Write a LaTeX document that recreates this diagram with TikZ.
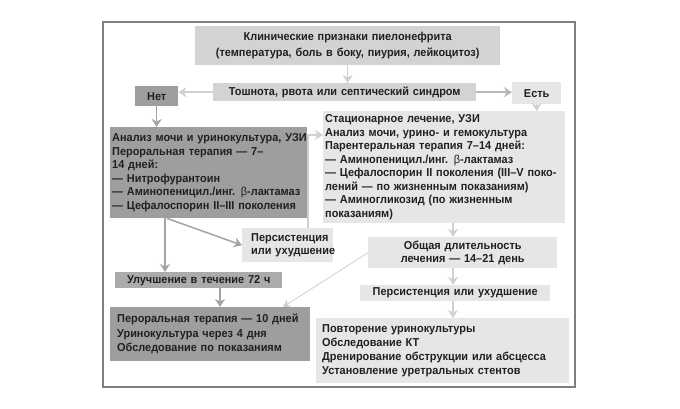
\documentclass[tikz,border=0pt]{standalone}
\usepackage{fontspec}
\setmainfont{Liberation Sans}[FakeStretch=0.95]
\usetikzlibrary{arrows.meta,calc}
\definecolor{cDark}{HTML}{9E9E9E}
\definecolor{cUl}{HTML}{ABABAB}
\definecolor{cMid}{HTML}{D3D3D3}
\definecolor{cLight}{HTML}{E6E6E6}
\definecolor{cTxt}{HTML}{231F20}
\definecolor{cArrD}{HTML}{A4A4A4}
\definecolor{cArrM}{HTML}{B8B8B8}
\definecolor{cArrL}{HTML}{D0D0D0}
\definecolor{cFrame}{HTML}{7F7F7F}
\newcommand\Lmb[1]{\mbox{#1}}
\begin{document}
\begin{tikzpicture}[x=1pt,y=-1pt,
  font=\fontsize{11.5}{13.5}\selectfont\bfseries,
  box/.style={anchor=north west, inner ysep=0pt, text=cTxt},
  arrbase/.style={line width=1.5pt, -{Stealth[length=8pt,width=10pt,inset=2.5pt]}},
  arrD/.style={arrbase, draw=cArrD, color=cArrD},
  arrM/.style={arrbase, draw=cArrM, color=cArrM},
  arrL/.style={arrbase, draw=cArrL, color=cArrL},
  arrT/.style={line width=0.8pt, draw=cArrL, color=cArrL, -{Stealth[length=7pt,width=8pt,inset=2pt]}},
  frame/.style={draw=cFrame, line width=1.5pt}]
\useasboundingbox (0,0) rectangle (680,409);
\fill[white] (0,0) rectangle (680,409);
\draw[frame] (103,22) rectangle (575,387);

\node[box, fill=cMid, minimum width=305pt, minimum height=39pt, inner xsep=2pt, text width=301pt, align=center] (top) at (195,26)
  {Клинические признаки пиелонефрита\\[2pt](температура, боль в боку, пиурия, лейкоцитоз)};
\node[box, fill=cMid, minimum width=263pt, minimum height=18pt, inner xsep=2pt, text width=259pt, align=center] (tosh) at (213,83)
  {Тошнота, рвота или септический синдром};
\node[box, fill=cDark, minimum width=43pt, minimum height=20pt, inner xsep=2pt, text width=39pt, align=center] (net) at (135,86)
  {Нет};
\node[box, fill=cLight, minimum width=49pt, minimum height=22pt, inner xsep=2pt, text width=45pt, align=center] (est) at (512,82)
  {Есть};
\node[box, fill=cDark, minimum width=197pt, minimum height=91pt, inner xsep=2pt, text width=193pt, align=left] (left) at (110,127)
  {\Lmb{Анализ мочи и уринокультура, УЗИ}\\
   \Lmb{Пероральная терапия — 7–}\\
   \Lmb{14 дней:}\\
   \Lmb{— Нитрофурантоин}\\
   \Lmb{— Аминопеницил./инг. {\mdseries β}-лактамаз}\\
   \Lmb{— Цефалоспорин II–III поколения}};
\node[box, fill=cLight, minimum width=242pt, minimum height=112pt, inner xsep=2pt, text width=238pt, align=left] (right) at (323,111)
  {\Lmb{Стационарное лечение, УЗИ}\\
   \Lmb{Анализ мочи, урино- и гемокультура}\\
   \Lmb{Парентеральная терапия 7–14 дней:}\\
   \Lmb{— Аминопеницил./инг. {\mdseries β}-лактамаз}\\
   \Lmb{— Цефалоспорин II поколения (III–V поко-}\\
   \Lmb{лений — по жизненным показаниям)}\\
   \Lmb{— Аминогликозид (по жизненным}\\
   \Lmb{показаниям)}};
\node[box, fill=cLight, minimum width=91pt, minimum height=34pt, inner xsep=9pt, text width=73pt, align=left] (persL) at (242,228)
  {\Lmb{Персистенция}\\\Lmb{или ухудшение}};
\node[box, fill=cUl, minimum width=167pt, minimum height=16pt, inner xsep=2pt, text width=163pt, align=center] (ul) at (115,272)
  {Улучшение в течение 72 ч};
\node[box, fill=cDark, minimum width=200pt, minimum height=54pt, inner xsep=7pt, text width=186pt, align=left,
  font=\fontsize{11.5}{14.5}\selectfont\bfseries] (per10) at (110,307)
  {\Lmb{Пероральная терапия — 10 дней}\\
   \Lmb{Уринокультура через 4 дня}\\
   \Lmb{Обследование по показаниям}};
\node[box, fill=cLight, minimum width=189pt, minimum height=31pt, inner xsep=2pt, text width=185pt, align=center] (obsh) at (368,237)
  {Общая длительность\\лечения — 14–21 день};
\node[box, fill=cLight, minimum width=190pt, minimum height=16pt, inner xsep=2pt, text width=186pt, align=center] (persR) at (360,285)
  {Персистенция или ухудшение};
\node[box, fill=cLight, minimum width=253pt, minimum height=65pt, inner xsep=6pt, text width=241pt, align=left,
  font=\fontsize{11.5}{14}\selectfont\bfseries] (povt) at (316,318)
  {\Lmb{Повторение уринокультуры}\\
   \Lmb{Обследование КТ}\\
   \Lmb{Дренирование обструкции или абсцесса}\\
   \Lmb{Установление уретральных стентов}};

\draw[arrL] (top.south) -- (top.south |- tosh.north);
\draw[arrL] (tosh.west) -- (tosh.west -| net.east);
\draw[arrM] (tosh.east) -- (tosh.east -| est.west);
\draw[arrD] (net.south) -- (net.south |- left.north);
\draw[arrL] (est.south) -- (est.south |- right.north);
\coordinate (l1) at ($(left.south west)+(55,0)$);
\draw[arrD] (l1) -- (l1 |- ul.north);
\coordinate (l2) at ($(left.south west)+(57,0)$);
\draw[arrD] (l2) -- (persL.west);
\coordinate (p1) at ($(persL.north west)+(66,0)$);
\coordinate (r1) at ($(right.north west)+(0,24)$);
\draw[arrL] (p1) |- (r1);
\coordinate (u1) at ($(ul.south west)+(105,0)$);
\draw[arrD] (u1) -- (u1 |- per10.north);
\coordinate (ax) at (453,0);
\draw[arrL] (right.south -| ax) -- (obsh.north -| ax);
\draw[arrL] (obsh.south -| ax) -- (persR.north -| ax);
\draw[arrL] (persR.south -| ax) -- (povt.north -| ax);
\coordinate (q1) at ($(per10.north west)+(173,0)$);
\draw[arrT] (obsh.west) -- (q1);
\end{tikzpicture}
\end{document}
